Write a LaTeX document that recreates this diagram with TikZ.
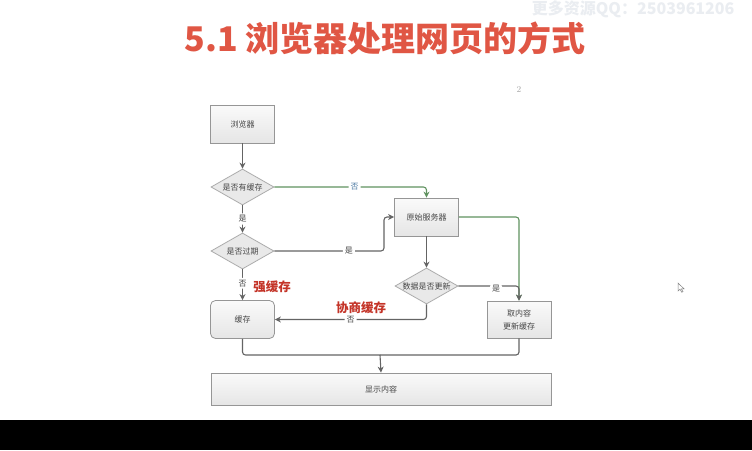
\documentclass[tikz,border=0pt]{standalone}
\usepackage{fontspec}
\newfontfamily\cjk{Noto Sans CJK SC}
\usetikzlibrary{arrows.meta,shapes.geometric}
\definecolor{titlered}{RGB}{224,86,68}
\definecolor{handred}{RGB}{196,52,40}
\definecolor{edgegray}{RGB}{100,100,100}
\definecolor{edgegreen}{RGB}{96,146,96}
\definecolor{labelblue}{RGB}{80,125,165}
\definecolor{boxborder}{RGB}{150,150,150}
\definecolor{boxtext}{RGB}{70,70,70}
\definecolor{wmcolor}{RGB}{234,237,241}
\tikzset{
  boxnode/.style={draw=boxborder, line width=0.8pt, top color=gray!4, bottom color=gray!20,
    minimum width=64pt, minimum height=38pt, inner sep=1pt,
    font=\cjk\fontsize{8}{10}\selectfont, text=boxtext, align=center},
  dianode/.style={diamond, draw=boxborder!80, line width=0.8pt, fill=gray!17,
    minimum width=63pt, minimum height=36pt, inner sep=0pt},
  dialabel/.style={font=\cjk\fontsize{8}{10}\selectfont, text=boxtext, inner sep=0pt},
  flow/.style={draw=edgegray, line width=1.1pt, rounded corners=3pt},
  gflow/.style={draw=edgegreen, line width=1.1pt, rounded corners=3pt},
  tip/.style={-{Stealth[length=6pt,width=6pt]}},
  edgelabel/.style={fill=white, font=\cjk\fontsize{8}{10}\selectfont, text=boxtext, inner sep=2pt},
  handlabel/.style={font=\cjk\bfseries\fontsize{12.5}{14}\selectfont, text=handred, inner sep=0pt},
}
\begin{document}
\begin{tikzpicture}[x=1pt,y=-1pt]
\useasboundingbox (0,0) rectangle (752,450);
\fill[white] (0,0) rectangle (752,420);
\fill[black] (0,420) rectangle (752,450);

% title and watermark
\node[font=\cjk\bfseries\fontsize{16}{18}\selectfont, text=wmcolor, anchor=east] (wm) at (738,9) {更多资源QQ：2503961206};
\node[font=\cjk\bfseries\fontsize{34}{38}\selectfont, text=titlered] (title) at (385,38) {5.1 浏览器处理网页的方式};
\node[font=\fontsize{9}{10}\selectfont, text=gray!70] (pgnum) at (519,90) {2};

% nodes
\node[boxnode] (browser) at (242.5,124) {浏览器};
\node[dianode, label={[dialabel]center:是否有缓存}] (d1) at (242.5,187) {};
\node[dianode, label={[dialabel]center:是否过期}] (d2) at (242.5,251) {};
\node[boxnode, rounded corners=5pt] (cache) at (242.5,319.5) {缓存};
\node[boxnode] (origin) at (426.5,217) {原始服务器};
\node[dianode, label={[dialabel]center:数据是否更新}] (d3) at (426.5,286) {};
\node[boxnode, minimum height=37pt] (fetch) at (519,319.5) {取内容\\[3pt]更新缓存};
\node[boxnode, minimum width=340pt, minimum height=32pt] (show) at (381,389) {显示内容};

\coordinate (m1) at (384,251);
\coordinate (mj) at (380,355);

% connectors
\draw[flow, tip] (browser) -- (d1);
\draw[gflow, tip] (d1.east) -| node[pos=0.5, edgelabel, text=labelblue, xshift=-72pt] {否} (origin.north);
\draw[flow, tip] (d1) -- node[edgelabel] {是} (d2);
\draw[flow, tip] (d2.east) -- node[edgelabel, pos=0.68] {是} (m1) |- (origin.west);
\draw[flow, tip] (d2) -- node[edgelabel, pos=0.45] {否} (cache);
\draw[flow, tip] (origin) -- (d3);
\draw[gflow, tip] (origin.east) -| (fetch.north);
\draw[flow, tip] (d3.east) -| node[pos=0.6, edgelabel, xshift=-23pt] {是} (fetch.north);
\draw[flow, tip] (d3.south) |- node[pos=0.75, edgelabel] {否} (cache.east);
\draw[flow] (cache.south) |- (mj);
\draw[flow] (fetch.south) |- (mj);
\draw[flow, tip, rounded corners=0pt] (mj) -- (show.north);

% handwritten notes
\node[handlabel] (strong) at (272,287) {强缓存};
\node[handlabel] (nego) at (361,308) {协商缓存};

% mouse cursor
\draw[gray, line width=0.5pt, fill=white] (678,283) -- (678,291) -- (680,289.3) -- (681.8,292.3) -- (683,291.7) -- (681.3,288.8) -- (684,288.8) -- cycle;
\end{tikzpicture}
\end{document}
